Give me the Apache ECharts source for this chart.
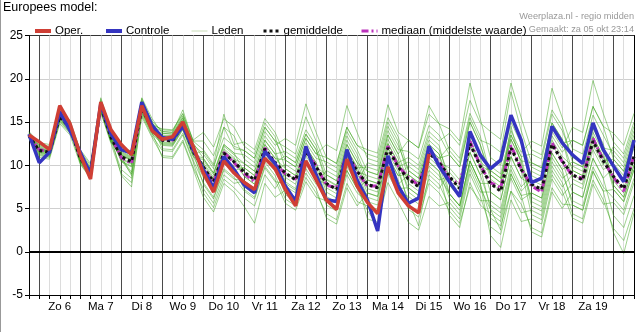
<!DOCTYPE html>
<html><head><meta charset="utf-8">
<script src="https://cdn.jsdelivr.net/npm/echarts@6/dist/echarts.min.js"></script>
<style>html,body{margin:0;padding:0;background:#fff}#c{width:638px;height:332px}</style>
</head><body><div id="c"></div>
<script>
// ---- data (6-hourly, first point = za 5 okt 18:00) ----
const startHour = 18;      // hours after za 5 okt 00:00
const stepHours = 6;
const dayLabels = ['Zo 6','Ma 7','Di 8','Wo 9','Do 10','Vr 11','Za 12','Zo 13','Ma 14','Di 15','Wo 16','Do 17','Vr 18','Za 19'];
const yTicks = [-5, 0, 5, 10, 15, 20, 25];

const oper = [13.5, 12.7,11.8,16.9,14.8, 11.2,8.4,17.3,14.1, 12.4,11.2,16.9,14.0, 13.0,13.3,15.0,12.2, 9.1,6.9,10.5,9.1, 8.0,7.2,10.8,9.6, 7.2,5.3,10.5,8.3, 6.0,4.9,10.7,7.6, 5.7,4.4,9.8,6.8, 5.3,4.5,11.3];
const controle = [13.6, 10.3,11.5,16.2,14.0, 11.5,9.0,17.1,13.6, 11.8,11.4,17.3,14.6, 13.2,13.0,14.5,11.9, 9.5,7.4,11.0,9.5, 7.7,6.8,11.6,10.2, 7.6,5.8,12.2,8.9, 6.0,5.8,11.8,8.3, 6.0,2.4,11.1,7.6, 5.6,6.2,12.2,9.9, 8.1,6.4,13.9,11.2, 9.6,10.6,15.8,12.9, 8.0,8.5,14.5,12.6, 11.2,10.2,14.9,11.8, 9.9,8.1,12.9];
const gemiddelde = [13.4, 11.7,11.5,15.6,14.3, 10.8,9.2,16.8,13.2, 11.0,10.4,16.6,14.2, 12.9,12.8,14.7,11.6, 9.8,8.1,11.4,10.4, 9.2,8.3,11.9,10.3, 9.1,8.3,11.6,9.8, 7.9,7.2,11.4,9.3, 7.8,7.4,12.0,9.8, 8.4,7.5,11.4,10.3, 8.7,7.3,12.5,9.9, 7.9,7.0,12.0,9.5, 7.8,7.2,12.4,10.5, 8.9,8.3,12.8,10.5, 8.7,7.3,11.0];
const mediaan = [13.4, 11.8,11.6,15.8,14.4, 10.9,9.0,16.9,13.3, 10.9,10.2,16.7,14.3, 12.9,12.9,14.9,11.7, 9.7,8.0,11.5,10.3, 9.0,8.1,12.0,10.2, 9.0,8.4,11.7,9.9, 7.7,7.4,11.6,9.2, 7.6,7.6,12.2,9.9, 8.6,7.7,11.6,10.4, 8.4,7.8,12.8,10.0, 8.0,7.4,12.3,9.6, 7.6,6.9,12.6,10.4, 8.8,8.5,13.1,10.6, 8.6,7.0,11.2];

const leden = [
 [13.7, 12.1,11.9,16.0,14.7, 10.2,8.6,16.2,12.6, 11.5,10.9,17.1,14.7, 11.9,11.8,13.7,10.6, 8.0,6.3,9.6,8.6, 7.0,6.1,9.7,8.1, 7.9,7.1,10.4,8.6, 8.3,7.6,11.8,9.7, 9.8,9.4,14.0,11.8, 11.6,10.7,14.6,13.5, 11.2,9.8,15.0,12.4, 8.4,7.5,14.5,10.0, 6.3,5.7,10.9,9.0, 5.9,5.3,9.8,7.5, 6.2,4.8,8.5],
 [13.2, 11.2,11.0,15.1,13.8, 11.2,9.6,17.2,13.6, 10.7,10.1,16.3,13.9, 13.7,13.6,15.5,12.4, 11.3,9.6,14.4,11.9, 11.7,10.8,14.4,12.8, 12.1,11.3,15.6,12.8, 9.9,9.2,13.4,11.3, 8.3,7.9,12.5,10.3, 7.4,6.5,10.4,9.3, 6.2,4.8,10.0,7.4, 4.9,4.0,9.0,6.5, 6.8,6.2,11.4,9.5, 10.4,9.8,14.3,12.0, 11.7,10.3,14.0],
 [13.4, 11.9,11.7,15.8,14.5, 11.1,9.5,17.1,13.5, 10.4,9.8,16.0,13.6, 12.5,12.4,14.3,11.2, 10.6,8.9,12.2,11.2, 10.2,9.3,12.9,11.3, 8.6,7.8,11.1,9.3, 5.9,5.2,9.4,7.3, 4.8,2.9,9.0,6.8, 6.4,5.5,9.4,8.3, 8.7,7.3,12.5,9.9, 9.4,8.5,13.5,11.0, 11.3,10.7,15.9,14.0, 10.9,10.3,14.8,12.5, 7.7,6.3,10.0],
 [13.1, 10.9,10.7,14.8,13.5, 10.1,8.5,16.1,12.5, 9.0,8.0,15.6,13.2, 11.1,11.0,12.9,9.8, 7.3,5.6,8.9,7.9, 8.2,7.3,10.9,9.3, 10.1,9.3,12.6,10.8, 10.4,9.7,13.9,11.8, 9.3,8.9,13.5,11.3, 7.9,7.0,10.9,9.8, 6.7,5.3,10.5,7.9, 3.9,3.0,7.0,5.5, 2.8,2.2,7.4,5.5, 5.4,4.8,9.3,7.0, 7.2,5.8,9.5],
 [13.9, 12.6,12.4,16.5,15.2, 11.6,10.0,17.6,14.0, 11.6,11.0,17.7,14.8, 14.1,14.0,15.9,12.8, 11.8,10.1,15.9,12.4, 12.7,11.8,15.4,13.8, 11.1,10.3,13.6,11.8, 7.9,7.2,11.4,9.3, 6.3,5.9,10.5,8.3, 4.9,4.0,7.9,6.8, 4.7,3.3,7.5,5.9, 5.9,5.0,10.0,7.5, 8.8,8.2,13.4,11.5, 12.9,12.3,16.8,14.5, 13.7,12.3,16.0],
 [13.3, 11.8,11.6,15.7,14.4, 10.6,9.0,16.6,13.0, 11.2,10.6,16.8,14.4, 13.2,13.1,15.0,11.9, 9.3,7.6,10.9,9.9, 9.7,8.8,12.4,10.8, 10.6,9.8,13.1,11.3, 10.9,10.2,14.4,12.3, 11.8,11.4,17.0,13.8, 12.9,12.0,15.9,14.8, 11.7,10.3,15.5,12.9, 12.4,11.5,18.5,14.0, 10.3,9.7,14.9,13.0, 9.4,8.8,13.3,11.0, 8.7,7.3,11.0],
 [13.5, 11.4,11.2,15.3,14.0, 10.9,9.3,16.9,13.3, 11.9,11.3,17.5,15.1, 13.9,13.8,16.4,12.8, 12.8,11.1,14.4,13.4, 10.7,9.8,13.4,11.8, 8.1,7.3,10.6,8.8, 5.4,4.7,8.9,6.8, 5.8,5.4,10.0,7.8, 8.9,8.0,11.9,10.8, 11.2,9.8,15.0,12.4, 8.9,8.0,13.0,10.5, 5.3,4.7,9.9,8.0, 4.4,3.8,8.3,6.0, 2.7,1.3,5.0],
 [13.4, 11.5,11.3,15.4,14.1, 10.4,8.8,16.4,12.8, 9.5,8.5,16.3,13.9, 12.3,12.2,14.1,11.0, 10.3,8.6,11.9,10.9, 8.7,7.8,11.4,9.8, 6.6,5.8,9.1,7.3, 3.9,3.2,7.4,5.3, 6.8,6.4,11.0,8.8, 9.9,9.0,12.9,11.8, 8.7,7.3,12.5,9.9, 4.9,2.5,9.0,6.5, 2.3,1.7,6.9,5.0, 6.9,6.3,10.8,8.5, 9.7,8.3,12.0],
 [13.8, 12.3,12.1,16.2,14.9, 11.8,10.2,17.8,14.2, 12.2,11.6,17.8,15.4, 13.7,13.6,15.5,12.4, 9.0,7.3,10.6,9.6, 7.2,6.3,9.9,8.3, 5.6,4.8,8.1,6.3, 5.9,5.2,9.4,7.3, 8.3,7.9,12.5,10.3, 10.9,10.0,13.9,12.8, 13.7,12.3,17.5,14.9, 13.9,13.0,19.5,15.5, 11.8,11.2,16.4,14.5, 10.4,9.8,14.3,12.0, 8.2,6.8,10.5],
 [13.0, 11.1,10.9,15.0,13.7, 11.0,9.4,17.0,13.4, 8.8,7.5,15.8,13.4, 11.7,11.6,13.5,10.4, 6.8,5.1,8.4,7.4, 6.2,5.3,8.9,7.3, 9.1,8.3,11.6,9.8, 8.9,8.2,12.4,10.3, 7.3,6.9,11.5,9.3, 5.9,3.0,8.9,7.8, 5.2,3.8,9.0,6.4, 2.9,2.0,7.0,4.5, 4.8,4.2,9.4,7.5, 8.9,8.3,12.8,10.5, 10.7,9.3,13.0],
 [13.6, 12.2,12.0,16.1,14.8, 10.5,8.9,16.5,12.9, 11.3,10.7,16.9,14.5, 13.9,13.8,15.7,12.6, 10.8,9.1,12.4,11.4, 11.2,10.3,13.9,12.3, 13.1,12.3,17.1,13.8, 10.9,10.2,14.4,12.3, 11.3,10.9,15.5,13.3, 9.4,8.5,12.4,11.3, 7.7,6.3,11.5,8.9, 9.9,9.0,14.0,11.5, 12.8,12.2,18.9,15.5, 11.9,11.3,15.8,13.5, 11.2,9.8,13.5],
 [13.2, 11.7,11.5,15.6,14.3, 11.4,9.8,17.4,13.8, 10.8,9.2,16.4,14.0, 13.4,13.3,15.2,12.1, 8.8,7.1,10.4,9.4, 9.7,8.8,12.4,10.8, 9.6,8.8,12.1,10.3, 6.9,6.2,10.4,8.3, 3.8,3.4,8.0,5.8, 3.4,2.5,6.4,5.3, 5.7,4.3,9.5,6.9, 6.9,6.0,11.0,8.5, 7.8,7.2,12.4,10.5, 6.9,6.3,10.8,8.5, 4.2,2.8,6.5],
 [13.5, 11.9,11.7,15.8,14.5, 11.3,9.7,17.3,13.7, 11.2,10.6,16.8,14.4, 12.7,12.6,14.5,11.4, 11.6,9.9,13.2,12.2, 11.7,10.8,14.4,12.8, 10.6,9.8,13.1,11.3, 12.4,11.7,16.9,13.8, 10.8,10.4,15.0,12.8, 8.4,7.5,11.4,10.3, 9.7,8.3,13.5,10.9, 6.9,6.0,11.0,8.5, 9.3,8.7,13.9,12.0, 14.4,13.8,19.8,16.0, 12.7,11.3,15.0],
 [13.3, 11.3,11.1,15.2,13.9, 10.3,8.7,16.3,12.7, 11.0,8.8,16.6,14.2, 12.4,12.3,14.2,11.1, 8.6,6.9,10.2,9.2, 7.7,6.8,10.4,8.8, 6.1,5.3,8.6,6.8, 4.4,3.7,7.9,5.8, 5.3,4.9,9.5,7.3, 7.4,6.5,10.4,9.3, 4.2,2.8,8.0,5.4, 4.4,3.5,8.5,6.0, 6.8,6.2,11.4,9.5, 5.4,4.8,9.3,7.0, 2.2,-0.2,4.5],
 [13.7, 11.8,11.6,15.7,14.4, 10.7,9.1,16.7,13.1, 10.5,9.9,16.1,13.7, 13.1,13.0,14.9,11.8, 10.1,8.4,11.7,10.7, 10.2,9.3,12.9,11.3, 11.6,10.8,14.1,12.3, 8.9,8.2,12.4,10.3, 9.3,8.9,13.5,11.3, 12.9,12.0,16.9,14.8, 14.2,12.8,19.5,15.4, 10.9,10.0,15.0,12.5, 9.8,9.2,14.4,12.5, 12.9,12.3,16.8,14.5, 10.7,9.3,13.0],
 [13.1, 12.4,12.2,16.3,15.0, 11.1,9.5,17.1,13.5, 11.8,11.2,17.4,15.0, 12.9,12.8,14.7,11.6, 7.8,6.1,9.4,8.4, 8.2,7.3,10.9,9.3, 7.6,6.8,10.1,8.3, 7.9,7.2,11.4,9.3, 8.8,8.4,13.0,10.8, 6.9,6.0,9.9,8.8, 6.7,5.3,10.5,7.9, 7.9,7.0,12.0,9.5, 4.3,3.7,8.9,7.0, 3.9,3.3,7.8,5.5, 5.7,4.3,8.0],
 [13.4, 11.6,11.4,15.5,14.2, 10.8,9.2,16.8,13.2, 11.4,10.8,17.0,14.6, 14.2,14.1,16.0,12.9, 13.8,12.1,15.4,14.4, 12.2,11.3,14.9,13.3, 9.6,8.8,12.1,10.3, 7.4,6.7,10.9,8.8, 7.8,7.4,12.0,9.8, 10.4,9.5,13.4,12.3, 7.7,6.3,11.5,8.9, 5.4,4.5,9.5,7.0, 8.3,7.7,12.9,11.0, 9.9,9.3,13.8,11.5, 7.2,5.8,9.5],
 [13.6, 11.5,11.3,15.4,14.1, 11.0,9.4,17.0,13.4, 10.6,9.0,16.2,13.8, 10.9,10.8,12.7,9.6, 6.3,4.6,7.9,6.9, 5.2,3.3,7.9,6.3, 7.1,6.3,9.6,7.8, 9.4,8.7,12.9,10.8, 7.8,7.4,12.0,9.8, 5.4,4.5,8.4,7.3, 9.2,7.8,13.0,10.4, 9.4,8.5,13.5,11.0, 5.8,5.2,10.4,8.5, 9.4,8.8,13.3,11.0, 7.7,6.3,10.0],
 [13.2, 12.0,11.8,15.9,14.6, 10.5,8.9,16.5,12.9, 11.1,10.5,16.7,14.3, 13.5,13.4,15.3,12.2, 9.8,8.1,11.4,10.4, 8.7,7.8,11.4,9.8, 9.1,8.3,11.6,9.8, 6.4,5.7,9.9,7.8, 10.3,9.9,14.5,12.3, 9.4,8.5,12.4,11.3, 6.7,5.3,10.5,7.9, 1.9,0.5,6.0,3.5, 3.8,3.2,8.4,6.5, 7.9,7.3,11.8,9.5, 10.2,8.8,12.5],
 [13.5, 11.7,11.5,15.6,14.3, 10.4,8.8,16.4,12.8, 10.8,10.2,16.4,14.0, 12.6,12.5,14.4,11.3, 10.8,9.1,12.4,11.4, 9.2,8.3,11.9,10.3, 11.1,10.3,13.6,11.8, 8.4,7.7,11.9,9.8, 6.8,6.4,11.0,8.8, 8.9,8.0,11.9,10.8, 12.2,10.8,16.0,13.4, 8.9,8.0,13.0,10.5, 10.3,9.7,14.9,13.0, 8.4,7.8,12.3,10.0, 12.2,10.8,14.5]
];

// ---- chart ----
const FONT = 'Liberation Sans, Arial, sans-serif';
const toPairs = arr => arr.map((v, i) => [startHour + i * stepHours, v]);
const nSteps = gemiddelde.length - 1;

const memberSeries = leden.map((m, k) => ({
  name: 'Leden', type: 'line', data: toPairs(m), symbol: 'none', silent: true, z: 2,
  lineStyle: { color: 'rgba(55,160,20,0.48)', width: 1 },
  itemStyle: { color: 'rgba(150,200,120,0.7)' },
  markLine: k === 0 ? { silent: true, symbol: 'none', label: { show: false },
    lineStyle: { color: '#000', width: 2, type: 'solid' }, data: [{ yAxis: 0 }] } : undefined
}));

function legendFor(name, left, lineStyle) {
  return { data: [name], left: left, top: 20, itemWidth: 16, itemHeight: 12, itemGap: 0,
    selectedMode: false,
    itemStyle: { color: 'rgba(0,0,0,0)', borderWidth: 0, opacity: 0 },
    lineStyle: lineStyle,
    textStyle: { fontFamily: FONT, fontSize: 11.5, color: '#000', padding: [0,0,0,-1] } };
}

const option = {
  animation: false,
  backgroundColor: '#fff',
  textStyle: { fontFamily: FONT },
  grid: { left: 29, right: 4, top: 35.5, bottom: 37 },
  legend: [
    legendFor('Oper.', 28, { width: 4 }),
    legendFor('Controle', 99, { width: 4 }),
    legendFor('Leden', 186, { width: 1, color: '#c9dcb8' }),
    legendFor('gemiddelde', 257, { width: 3 }),
    legendFor('mediaan (middelste waarde)', 355, { width: 3 })
  ],
  graphic: [
    { type: 'text', left: 3, top: 1, style: { text: 'Europees model:', font: '12.5px ' + FONT, fill: '#000' } },
    { type: 'text', right: 4, top: 12, style: { text: 'Weerplaza.nl - regio midden', font: '9.2px ' + FONT, fill: '#999' } },
    { type: 'text', right: 4, top: 25, style: { text: 'Gemaakt: za 05 okt 23:14', font: '9.2px ' + FONT, fill: '#999' } },
    { type: 'line', shape: { x1: 0.5, y1: 0, x2: 0.5, y2: 332 }, style: { stroke: '#999', lineWidth: 1 } }
  ],
  xAxis: {
    type: 'value', min: startHour, max: startHour + nSteps * stepHours, interval: stepHours,
    axisLine: { show: true, onZero: false, lineStyle: { color: '#000', width: 1 } },
    axisTick: { show: true, length: 4, lineStyle: { color: '#000' } },
    axisLabel: { margin: 6, fontSize: 11.5, color: '#000', fontFamily: FONT, showMinLabel: true, showMaxLabel: true,
      formatter: v => { const d = (v - startHour - 18) / 24; return (Number.isInteger(d) && d >= 0 && d < dayLabels.length) ? dayLabels[d] : ''; } },
    splitLine: { show: true, lineStyle: { color: ['#dcdcdc', '#4a4a4a', '#dcdcdc', '#dcdcdc'], width: 1 } }
  },
  yAxis: [{
    type: 'value', min: yTicks[0], max: yTicks[yTicks.length - 1], interval: 5,
    axisLine: { show: true, lineStyle: { color: '#000', width: 1 } },
    axisTick: { show: true, length: 4, lineStyle: { color: '#000' } },
    axisLabel: { margin: 6, fontSize: 12, color: '#000', fontFamily: FONT },
    splitLine: { show: true, lineStyle: { color: ['#000', '#000', '#cfcfcf', '#cfcfcf', '#cfcfcf', '#cfcfcf', '#333'], width: 1 } }
  }, {
    type: 'value', min: yTicks[0], max: yTicks[yTicks.length - 1], interval: 5, position: 'right',
    axisLine: { show: true, lineStyle: { color: '#000', width: 1 } },
    axisTick: { show: false }, axisLabel: { show: false }, splitLine: { show: false }
  }],
  series: memberSeries.concat([
    { name: 'mediaan (middelste waarde)', type: 'line', data: toPairs(mediaan), symbol: 'none', z: 3,
      lineStyle: { color: '#bb33bb', width: 3, type: [7, 3, 2, 3] }, itemStyle: { color: '#bb33bb' } },
    { name: 'gemiddelde', type: 'line', data: toPairs(gemiddelde), symbol: 'none', z: 4,
      lineStyle: { color: '#111', width: 3, type: [3, 3] }, itemStyle: { color: '#111' } },
    { name: 'Controle', type: 'line', data: toPairs(controle), symbol: 'none', z: 5,
      lineStyle: { color: '#3535c0', width: 3.5 }, itemStyle: { color: '#3535c0' } },
    { name: 'Oper.', type: 'line', data: toPairs(oper), symbol: 'none', z: 6,
      lineStyle: { color: '#cf3f35', width: 3.5 }, itemStyle: { color: '#cf3f35' } }
  ])
};

const chart = echarts.init(document.getElementById('c'), null, { renderer: 'canvas' });
chart.setOption(option);
</script>
</body></html>
